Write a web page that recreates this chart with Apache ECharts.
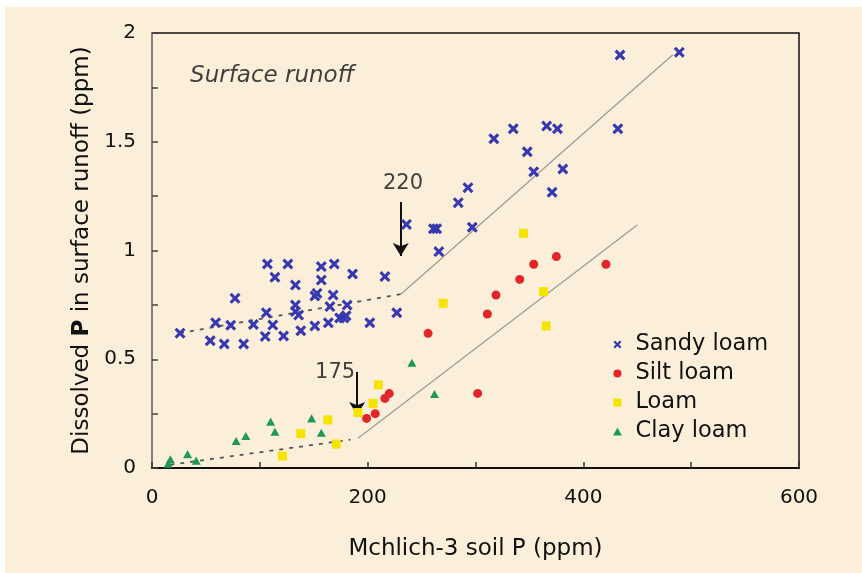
<!DOCTYPE html>
<html>
<head>
<meta charset="utf-8">
<script src="https://cdn.jsdelivr.net/npm/echarts@6/dist/echarts.min.js"></script>
<style>
  html, body { margin: 0; padding: 0; background: #ffffff; }
  #chart {
    width: 862px; height: 573px;
    background-image: linear-gradient(#fbefd9, #fbefd9);
    background-position: 5px 7px;
    background-size: 857px 566px;
    background-repeat: no-repeat;
  }
</style>
</head>
<body>
<div id="chart"></div>
<script>
// ---- Data ----
const seriesNames = ['Sandy loam', 'Silt loam', 'Loam', 'Clay loam'];

const sandyLoam = [
  [26,0.62],[54,0.585],[67,0.57],[85,0.57],[59,0.668],[73,0.656],[77,0.78],[94,0.66],
  [105,0.605],[112,0.657],[122,0.607],[106,0.714],[107,0.938],[114,0.877],[126,0.938],
  [133,0.841],[133,0.749],[133,0.719],[136,0.703],[138,0.631],[151,0.653],[151,0.791],
  [153,0.803],[157,0.864],[157,0.926],[169,0.938],[168,0.795],[165,0.742],[163.5,0.668],
  [174,0.69],[178,0.69],[180,0.70],[181,0.749],[186,0.892],[202,0.668],[216,0.88],
  [227,0.714],[236,1.12],[261,1.10],[264,1.10],[266,0.995],[297,1.107],[284,1.22],
  [293,1.289],[317,1.514],[335,1.56],[348,1.454],[354,1.362],[371,1.268],[381,1.375],
  [366,1.572],[376,1.56],[432,1.56],[434,1.899],[489,1.911]
];
const siltLoam = [
  [199,0.228],[207,0.25],[216,0.32],[220,0.342],[256,0.619],[302,0.343],[311,0.708],
  [319,0.795],[341,0.867],[354,0.937],[375,0.972],[421,0.937]
];
const loam = [
  [121,0.055],[138,0.158],[163,0.221],[171,0.11],[191,0.255],[205,0.297],[210,0.382],
  [270,0.757],[344.5,1.079],[363,0.811],[365.5,0.653]
];
const clayLoam = [
  [15,0.02],[17,0.04],[33,0.064],[41,0.034],[78,0.124],[87,0.147],[110,0.213],
  [114,0.167],[148,0.228],[157,0.162],[241,0.484],[262,0.34]
];

// trend lines: dashed part below the change point, solid part above
const sandyDashed = [[26,0.62],[231,0.80]];
const sandySolid  = [[231,0.80],[483,1.90]];
const clayDashed  = [[17,0.015],[184,0.13]];
const claySolid   = [[191,0.137],[450,1.117]];

// change-point arrows [x, yTop, yTip]
const arrows = [[230.7,1.223,0.975],[190.2,0.441,0.244]];
// text annotations [x, y, text]
const annotations = [[232.8,1.31,'220'],[169.8,0.441,'175']];
const panelTitle = [[35.3,1.80,'Surface runoff']];

const xTicks = [0,200,400,600];
const yTicks = [0,0.5,1,1.5,2];

// ---- Chart ----
const FONT = 'DejaVu Sans';
const TXT = '#111111';
const xPath = 'path://M0,2 L2,0 L5,3 L8,0 L10,2 L7,5 L10,8 L8,10 L5,7 L2,10 L0,8 L3,5 Z';
const sqPath = 'path://M0,0 L10,0 L10,10 L0,10 Z';
const triPath = 'path://M5,0 L10,9 L0,9 Z';

const chart = echarts.init(document.getElementById('chart'), null, {renderer: 'canvas'});

function scatter(name, data, symbol, color, size) {
  return {
    name, type: 'scatter', data, symbol, symbolSize: size, z: 5, symbolKeepAspect: true,
    itemStyle: {color, opacity: 1}
  };
}
function trend(data, dashed) {
  return {
    type: 'line', data, symbol: 'none', silent: true, z: 3,
    lineStyle: dashed ? {color: '#555', width: 1.8, type: [4, 6]} : {color: '#9a9a9a', width: 1.2}
  };
}

const option = {
  animation: false,
  backgroundColor: 'transparent',
  textStyle: {fontFamily: FONT},
  grid: {left: 152, right: 63, top: 33, bottom: 105, show: true, borderColor: '#111', borderWidth: 1.5, backgroundColor: 'transparent'},
  xAxis: {
    type: 'value', min: 0, max: 600, interval: 100,
    name: 'Mchlich-3 soil P (ppm)', nameLocation: 'middle', nameGap: 70,
    nameTextStyle: {fontFamily: FONT, fontSize: 23, color: TXT},
    axisLine: {show: true, lineStyle: {color: '#111', width: 2}},
    axisTick: {show: true, inside: true, length: 6, lineStyle: {color: '#333', width: 1.5}},
    splitLine: {show: false},
    axisLabel: {
      fontFamily: FONT, fontSize: 20, color: TXT, margin: 20,
      formatter: v => xTicks.indexOf(v) >= 0 ? String(v) : ''
    }
  },
  yAxis: {
    type: 'value', min: 0, max: 2, interval: 0.25,
    name: '{n|Dissolved }{b|P}{n| in surface runoff (ppm)}', nameLocation: 'middle', nameGap: 51, nameRotate: 90,
    nameTextStyle: {
      fontFamily: FONT, fontSize: 23, color: TXT,
      rich: {n: {fontFamily: FONT, fontSize: 23, color: TXT}, b: {fontFamily: FONT, fontSize: 23, color: TXT, fontWeight: 'bold'}}
    },
    axisLine: {show: true, lineStyle: {color: '#808080', width: 2}},
    axisTick: {show: true, inside: true, length: 6, lineStyle: {color: '#444', width: 1.5}},
    splitLine: {show: false},
    axisLabel: {
      fontFamily: FONT, fontSize: 20, color: TXT, margin: 16,
      formatter: v => yTicks.indexOf(v) >= 0 ? String(v) : ''
    }
  },
  legend: {
    data: seriesNames, orient: 'vertical', left: 608, top: 328,
    itemWidth: 26, itemHeight: 8, itemGap: 6, symbolKeepAspect: true,
    textStyle: {fontFamily: FONT, fontSize: 22.5, color: TXT, lineHeight: 22},
    selectedMode: false
  },
  series: [
    trend(sandyDashed, true), trend(sandySolid, false),
    trend(clayDashed, true), trend(claySolid, false),
    scatter('Sandy loam', sandyLoam, xPath, '#3838b0', 11),
    scatter('Silt loam', siltLoam, 'circle', '#e3252a', 9),
    scatter('Loam', loam, sqPath, '#f5e400', 9),
    scatter('Clay loam', clayLoam, triPath, '#1f9a52', 9),
    {
      type: 'scatter', data: [], silent: true, z: 6,
      markLine: {
        silent: true, symbol: ['none', 'arrow'], symbolSize: [12, 13], animation: false,
        label: {show: false},
        lineStyle: {color: '#111', width: 2, type: 'solid'},
        data: arrows.map(a => [{coord: [a[0], a[1]]}, {coord: [a[0], a[2]]}])
      }
    },
    {
      type: 'scatter', silent: true, symbolSize: 0, z: 6,
      data: annotations.map(a => ({value: [a[0], a[1]], name: a[2]})),
      label: {show: true, position: 'inside', formatter: p => p.name, fontFamily: FONT, fontSize: 21, color: TXT}
    },
    {
      type: 'scatter', silent: true, symbolSize: 0, z: 6,
      data: panelTitle.map(a => ({value: [a[0], a[1]], name: a[2]})),
      label: {show: true, position: 'inside', align: 'left', formatter: p => p.name, fontFamily: FONT, fontStyle: 'italic', fontSize: 23, color: TXT}
    }
  ]
};
chart.setOption(option);
</script>
</body>
</html>
